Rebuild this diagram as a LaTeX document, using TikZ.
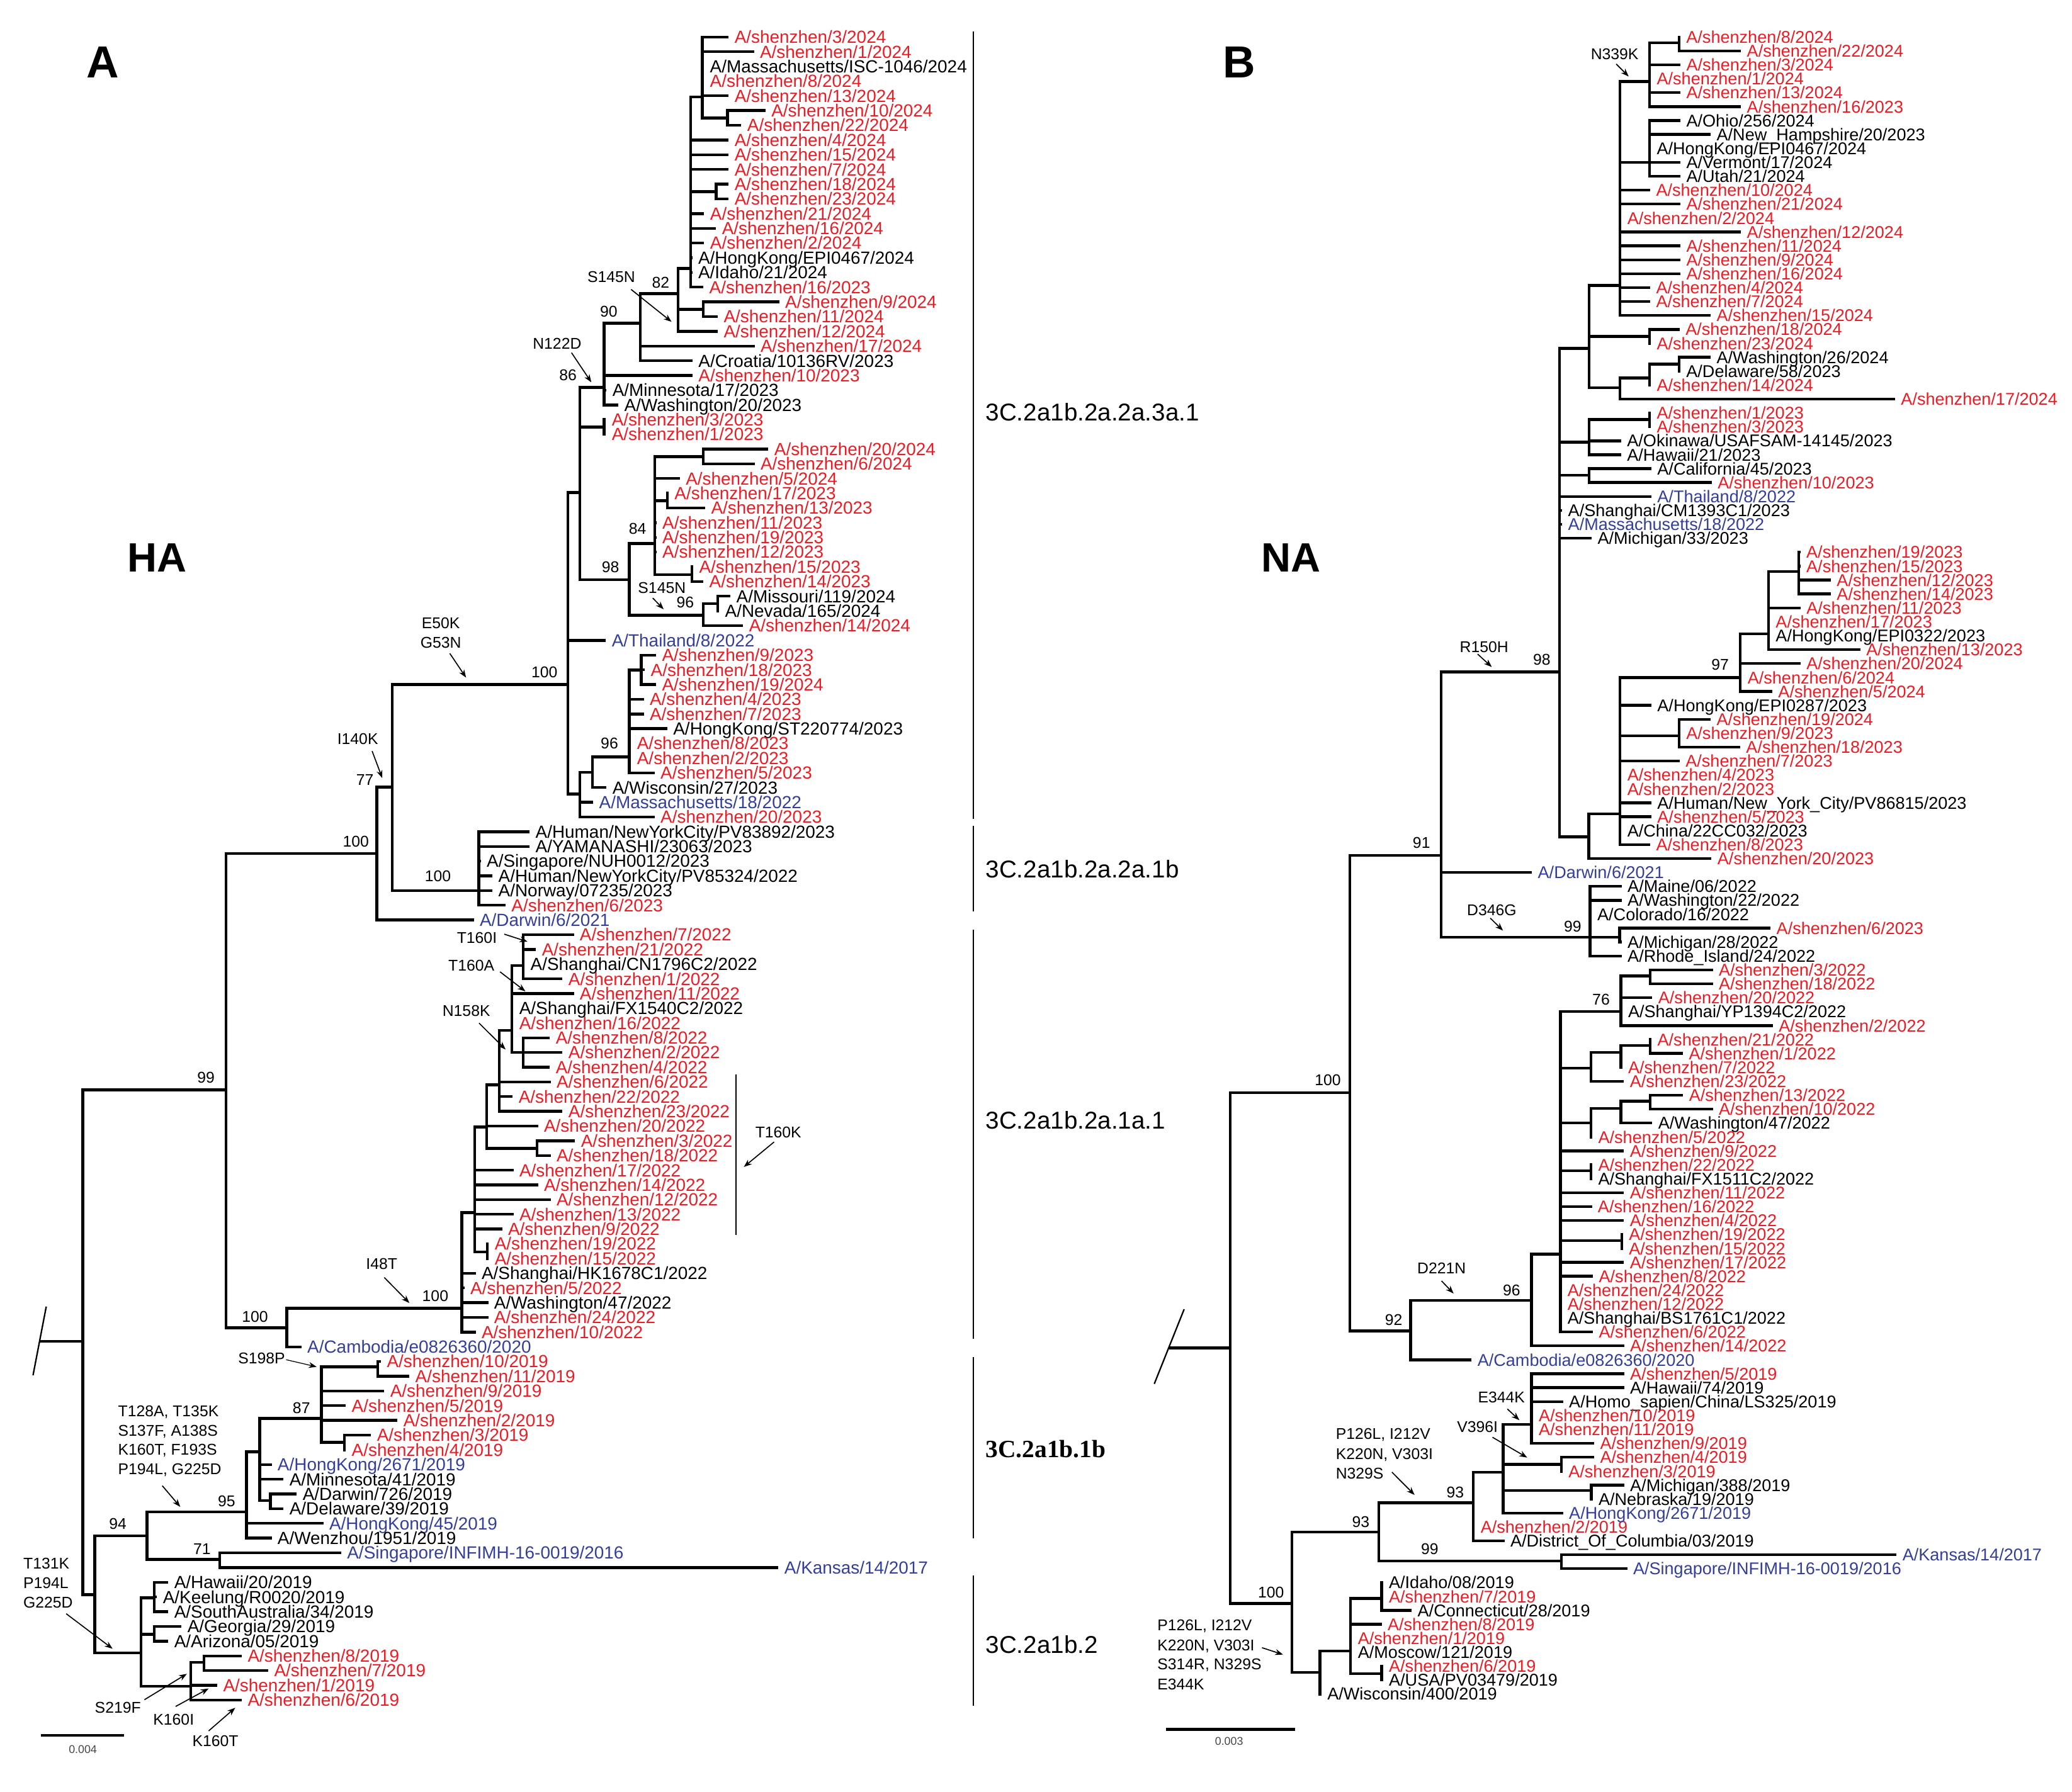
\documentclass[tikz,border=0pt]{standalone}
\usepackage{fontspec}
\setmainfont{Liberation Sans}
\newfontfamily\serifbold{Liberation Serif}
\usetikzlibrary{arrows.meta}
\definecolor{rd}{RGB}{237,28,36}
\definecolor{bl}{RGB}{52,62,155}
\definecolor{sbgray}{RGB}{70,70,70}
\newcommand\ndx[4]{\coordinate (#1) at (#3,#4); \draw[br] (#2) |- (#1);}
\newcommand\lfA[5]{\coordinate (ea#2) at (#3,{28+(#2-1)*11.14}); \draw[br] (#1) |- (ea#2); \node[lfa,text=#4] (la#2) at (ea#2) {#5};}
\newcommand\lfAr[4]{\lfA{#1}{#2}{#3}{rd}{A/shenzhen/#4}}
\newcommand\lfB[5]{\coordinate (eb#2) at (#3,{28+(#2-1)*10.54}); \draw[br] (#1) |- (eb#2); \node[lfb,text=#4] (lb#2) at (eb#2) {#5};}
\newcommand\lfBr[4]{\lfB{#1}{#2}{#3}{rd}{A/shenzhen/#4}}
\newcommand\anx[4]{\node[ann] (#1) at (#2,#3) {#4};}
\newcommand\anw[4]{\node[ann,anchor=west] (#1) at (#2,#3) {#4};}
\newcommand\arx[2]{\draw[arr] (#1) -- (#2);}
\begin{document}
\begin{tikzpicture}[x=1pt,y=-1pt,
  br/.style={line width=2.1pt,line join=miter},
  lfa/.style={anchor=base west,inner sep=0pt,xshift=4.3pt,yshift=-4.7pt,font=\fontsize{13.3}{14}\selectfont},
  lfb/.style={anchor=base west,inner sep=0pt,xshift=4.3pt,yshift=-4.6pt,font=\fontsize{12.9}{14}\selectfont},
  ann/.style={inner sep=0pt,font=\fontsize{11.8}{13}\selectfont},
  arr/.style={line width=0.8pt,-{Stealth[length=6pt,width=4.5pt]}},
  cbar/.style={line width=1.1pt},
  cl/.style={anchor=west,inner sep=0pt,font=\fontsize{18.4}{20}\selectfont},
  ttl/.style={inner sep=0pt,font=\bfseries\fontsize{34}{36}\selectfont},
  sub/.style={inner sep=0pt,font=\bfseries\fontsize{31}{33}\selectfont},
  sbl/.style={inner sep=0pt,text=sbgray,font=\fontsize{8.5}{9}\selectfont}]
\useasboundingbox (0,0) rectangle (1568,1356);
\fill[white] (0,0) rectangle (1568,1356);

% ================= PANEL A =================
\node[ttl] (tA) at (78,47) {A};
\node[sub] (tHA) at (119,422) {HA};
\coordinate (Ar) at (62.7,1015.4);
\coordinate (Ars) at (30,1015.4);
\draw[br] (Ars) -- (Ar);
\coordinate (As1) at (25,1041); \coordinate (As2) at (35,989);
\draw[line width=1.1pt] (As1) -- (As2);

\ndx{A99}{Ar}{171}{825}
\ndx{A100a}{A99}{285.2}{646}
\ndx{A77}{A100a}{296.7}{595.8}
\ndx{A100t}{A77}{429.8}{518.2}
\ndx{A100m}{A77}{362.4}{674.2}
\lfA{A100a}{61}{358.6}{bl}{A/Darwin/6/2021}
\ndx{AnB}{A100t}{438.8}{372.9}
\lfA{A100t}{42}{458.5}{bl}{A/Thailand/8/2022}
\ndx{AnC}{A100t}{438.8}{601}
\ndx{AN122}{AnB}{457.1}{293.2}
\ndx{Ap27}{AnB}{457.1}{323.2}
\lfAr{Ap27}{27}{458.5}{3/2023}
\lfAr{Ap27}{28}{458.5}{1/2023}
\ndx{A98}{AnB}{476.3}{438.9}
\ndx{A90}{AN122}{484.5}{244.7}
\lfAr{AN122}{24}{524.1}{10/2023}
\lfA{AN122}{25}{459}{black}{A/Minnesota/17/2023}
\lfA{AN122}{26}{468}{black}{A/Washington/20/2023}
\ndx{A82}{A90}{513.2}{222.3}
\lfAr{A90}{22}{571.1}{17/2024}
\lfA{A90}{23}{524.1}{black}{A/Croatia/10136RV/2023}
\ndx{Abig}{A82}{522.7}{203.2}
\ndx{Ap19}{A82}{532.3}{234.2}
\lfAr{Ap19}{19}{589.7}{9/2024}
\lfAr{Ap19}{20}{543.2}{11/2024}
\lfAr{A82}{21}{543.2}{12/2024}
\ndx{Atop}{Abig}{531.5}{73.4}
\lfAr{Abig}{8}{551.4}{4/2024}
\lfAr{Abig}{9}{551.4}{15/2024}
\lfAr{Abig}{10}{551.4}{7/2024}
\ndx{Ap11}{Abig}{541.9}{145}
\lfAr{Ap11}{11}{551.4}{18/2024}
\lfAr{Ap11}{12}{551.4}{23/2024}
\lfAr{Abig}{13}{532.9}{21/2024}
\lfAr{Abig}{14}{541.9}{16/2024}
\lfAr{Abig}{15}{532.9}{2/2024}
\lfA{Abig}{16}{523.9}{black}{A/HongKong/EPI0467/2024}
\lfA{Abig}{17}{523.9}{black}{A/Idaho/21/2024}
\lfAr{Abig}{18}{532.3}{16/2023}
\lfAr{Atop}{1}{551.4}{3/2024}
\lfAr{Atop}{2}{570.6}{1/2024}
\lfA{Atop}{3}{532.8}{black}{A/Massachusetts/ISC-1046/2024}
\lfAr{Atop}{4}{532.8}{8/2024}
\lfAr{Atop}{5}{551.4}{13/2024}
\ndx{Ap6}{Atop}{550.6}{89.3}
\lfAr{Ap6}{6}{579.3}{10/2024}
\lfAr{Ap6}{7}{561}{22/2024}
% 98 clade
\ndx{A84}{A98}{495.4}{411.4}
\ndx{A96b}{A98}{532.3}{465.7}
\ndx{Ap29}{A84}{532.3}{345.7}
\lfAr{Ap29}{29}{581.5}{20/2024}
\lfAr{Ap29}{30}{571.1}{6/2024}
\lfAr{A84}{31}{514.5}{5/2024}
\ndx{Ap32}{A84}{505}{379}
\lfAr{Ap32}{32}{506}{17/2023}
\lfAr{Ap32}{33}{533.7}{13/2023}
\lfAr{A84}{34}{496.8}{11/2023}
\lfAr{A84}{35}{496.8}{19/2023}
\lfAr{A84}{36}{496.8}{12/2023}
\ndx{Ap37}{A84}{523.6}{434.9}
\lfAr{Ap37}{37}{524.6}{15/2023}
\lfAr{Ap37}{38}{532.3}{14/2023}
\ndx{Ap39}{A96b}{543.2}{457}
\lfA{Ap39}{39}{552.8}{black}{A/Missouri/119/2024}
\lfA{Ap39}{40}{544.2}{black}{A/Nevada/165/2024}
\lfAr{A96b}{41}{562.4}{14/2024}
% lower 3a.1
\ndx{A448}{AnC}{448.4}{584.5}
\lfA{AnC}{53}{448.9}{bl}{A/Massachusetts/18/2022}
\lfAr{AnC}{54}{495.4}{20/2023}
\ndx{A96}{A448}{476.3}{573}
\lfA{A448}{52}{459}{black}{A/Wisconsin/27/2023}
\ndx{Ap43}{A96}{485.3}{507.1}
\lfAr{Ap43}{43}{496.5}{9/2023}
\lfAr{Ap43}{44}{488}{18/2023}
\lfAr{Ap43}{45}{496.5}{19/2024}
\lfAr{A96}{46}{487.2}{4/2023}
\lfAr{A96}{47}{487.2}{7/2023}
\lfA{A96}{48}{505}{black}{A/HongKong/ST220774/2023}
\lfAr{A96}{49}{477.6}{8/2023}
\lfAr{A96}{50}{477.6}{2/2023}
\lfAr{A96}{51}{495.4}{5/2023}
% 1b clade
\lfA{A100m}{55}{400.8}{black}{A/Human/NewYorkCity/PV83892/2023}
\lfA{A100m}{56}{400.8}{black}{A/YAMANASHI/23063/2023}
\lfA{A100m}{57}{363.9}{black}{A/Singapore/NUH0012/2023}
\lfA{A100m}{58}{372.7}{black}{A/Human/NewYorkCity/PV85324/2022}
\lfA{A100m}{59}{372.7}{black}{A/Norway/07235/2023}
\lfAr{A100m}{60}{382.6}{6/2023}
% 1a.1 clade
\ndx{A100b}{A99}{217.1}{1005.1}
\ndx{AI48}{A100b}{349.4}{990.2}
\lfA{A100b}{90}{228.1}{bl}{A/Cambodia/e0826360/2020}
\ndx{AX}{AI48}{359.3}{917.9}
\lfA{AI48}{85}{360}{black}{A/Shanghai/HK1678C1/2022}
\lfAr{AI48}{86}{351.5}{5/2022}
\lfA{AI48}{87}{369.5}{black}{A/Washington/47/2022}
\lfAr{AI48}{88}{369.5}{24/2022}
\lfAr{AI48}{89}{360}{10/2022}
\ndx{AY}{AX}{368.2}{853}
\lfAr{AX}{78}{388.6}{17/2022}
\lfAr{AX}{79}{407.2}{14/2022}
\lfAr{AX}{80}{416.7}{12/2022}
\lfAr{AX}{81}{388.6}{13/2022}
\lfAr{AX}{82}{380}{9/2022}
\ndx{Ap83}{AX}{368.9}{947.6}
\lfAr{Ap83}{83}{369.9}{19/2022}
\lfAr{Ap83}{84}{369.9}{15/2022}
\ndx{AN158}{AY}{377.8}{821.1}
\lfAr{AY}{75}{407.2}{20/2022}
\ndx{Ap76}{AY}{406.5}{869.3}
\lfAr{Ap76}{76}{435.2}{3/2022}
\lfAr{Ap76}{77}{416.7}{18/2022}
\ndx{AN}{AN158}{387.4}{780}
\lfAr{AN158}{72}{416.7}{6/2022}
\lfAr{AN158}{73}{388}{22/2022}
\lfAr{AN158}{74}{425.7}{23/2022}
\ndx{AT160}{AN}{396}{731}
\lfAr{AT160}{62}{434.3}{7/2022}
\lfAr{AT160}{63}{405.6}{21/2022}
\lfA{AT160}{64}{397}{black}{A/Shanghai/CN1796C2/2022}
\lfAr{AT160}{65}{425.7}{1/2022}
\lfAr{AN}{66}{434.3}{11/2022}
\lfA{AN}{67}{388.5}{black}{A/Shanghai/FX1540C2/2022}
\lfAr{AN}{68}{388.5}{16/2022}
\ndx{Ap69}{AN}{396}{796.5}
\lfAr{Ap69}{69}{416.1}{8/2022}
\lfAr{Ap69}{70}{425.7}{2/2022}
\lfAr{Ap69}{71}{416.1}{4/2022}
% lower part
\ndx{AR2}{Ar}{71.7}{1207}
\ndx{A94}{AR2}{111.3}{1162.4}
\ndx{AT131}{AR2}{106.8}{1251.1}
\ndx{A95}{A94}{186.5}{1144.4}
\ndx{A71}{A94}{166.4}{1180.4}
\lfA{A71}{104}{258.2}{bl}{A/Singapore/INFIMH-16-0019/2016}
\lfA{A71}{105}{589.1}{bl}{A/Kansas/14/2017}
\ndx{A196}{A95}{196.5}{1098.9}
\lfA{A95}{102}{244.7}{bl}{A/HongKong/45/2019}
\lfA{A95}{103}{205.6}{black}{A/Wenzhou/1951/2019}
\ndx{A87}{A196}{243.2}{1073.7}
\lfA{A196}{98}{205.6}{bl}{A/HongKong/2671/2019}
\lfA{A196}{99}{214.6}{black}{A/Minnesota/41/2019}
\ndx{Ap100}{A196}{204.6}{1135.9}
\lfA{Ap100}{100}{224.6}{black}{A/Darwin/726/2019}
\lfA{Ap100}{101}{214.6}{black}{A/Delaware/39/2019}
\ndx{Ap91}{A87}{285.8}{1034.6}
\lfAr{Ap91}{91}{288.3}{10/2019}
\lfAr{Ap91}{92}{309.8}{11/2019}
\lfAr{A87}{93}{290.8}{9/2019}
\lfAr{A87}{94}{261.7}{5/2019}
\lfAr{A87}{95}{300.8}{2/2019}
\ndx{Ap96}{A87}{260.7}{1091.7}
\lfAr{Ap96}{96}{280.8}{3/2019}
\lfAr{Ap96}{97}{261.7}{4/2019}
\ndx{AH}{AT131}{116.8}{1209.5}
\lfA{AH}{106}{127.4}{black}{A/Hawaii/20/2019}
\lfA{AH}{107}{118.8}{black}{A/Keelung/R0020/2019}
\lfA{AH}{108}{127.4}{black}{A/SouthAustralia/34/2019}
\ndx{AG}{AT131}{116.8}{1237}
\lfA{AG}{109}{137.4}{black}{A/Georgia/29/2019}
\lfA{AG}{110}{127.4}{black}{A/Arizona/05/2019}
\ndx{AS219}{AT131}{144.4}{1276.3}
\ndx{Ap111}{AS219}{154.4}{1258.3}
\lfAr{Ap111}{111}{183}{8/2019}
\lfAr{Ap111}{112}{203}{7/2019}
\lfAr{AS219}{113}{164.4}{1/2019}
\lfAr{AS219}{114}{183}{6/2019}

% annotations A
\anx{aS145a}{462.6}{209.6}{S145N}
\arx{477.6,219.1}{508.2,243.6}
\anx{a82}{500}{213.8}{82}
\anx{a90}{460.7}{236}{90}
\anx{aN122}{421.6}{260}{N122D}
\arx{432.5,267}{447.5,289.4}
\anx{a86}{429.8}{284}{86}
\anx{a84}{482.5}{400.1}{84}
\anx{a98}{462}{429.3}{98}
\anx{aS145b}{500.9}{444.8}{S145N}
\arx{494,452.7}{502.2,461.2}
\anx{a96b}{518.6}{456.1}{96}
\anx{a100t}{412}{508.6}{100}
\anx{a96}{461.2}{562.5}{96}
\anx{aE50}{333.6}{471.9}{E50K}
\anx{aG53}{333.6}{486.4}{G53N}
\arx{340.4,494.6}{352.7,512.9}
\anx{aI140}{270.7}{559.4}{I140K}
\arx{281.6,568.5}{289.3,589}
\anx{a77}{276.2}{590.4}{77}
\anx{a100a}{269.3}{636.9}{100}
\anx{a100m}{331.4}{663.3}{100}
\anx{a99}{155.9}{815.9}{99}
\anx{aT160I}{360.9}{710.1}{T160I}
\arx{381.6,707.1}{399.2,712.8}
\anx{aT160A}{356.7}{731}{T160A}
\arx{378.4,735.6}{397.6,750.4}
\anx{aN158}{352.9}{765.3}{N158K}
\arx{362.5,774.4}{382.6,794.4}
\anx{aI48}{288.8}{956.8}{I48T}
\arx{290.8,967}{309.8,986.3}
\anx{a100i}{329.4}{981.2}{100}
\anx{a100b}{193}{996.6}{100}
\anx{aS198}{198}{1028.2}{S198P}
\draw[line width=0.6pt,-{Stealth[length=6pt,width=4.5pt]}] (216.5,1029.2) -- (239.6,1034.6);
\anx{a87}{228.1}{1066}{87}
\anw{aT128a}{89.2}{1069}{T128A, T135K}
\anw{aT128b}{89.2}{1083.5}{S137F, A138S}
\anw{aT128c}{89.2}{1098.1}{K160T, F193S}
\anw{aT128d}{89.2}{1112.8}{P194L, G225D}
\arx{122.8,1124.6}{136.4,1140.6}
\anx{a95}{171.5}{1136.2}{95}
\anx{a94}{89.2}{1153.4}{94}
\anx{a71}{152.9}{1172.7}{71}
\anw{aT131a}{17.5}{1183.5}{T131K}
\anw{aT131b}{17.5}{1198.4}{P194L}
\anw{aT131c}{17.5}{1213.1}{G225D}
\arx{50.1,1221.5}{85.2,1248}
\anx{aS219}{89.2}{1292.7}{S219F}
\arx{109.3,1286.6}{141.4,1267}
\anx{aK160I}{131.4}{1301.7}{K160I}
\arx{132.9,1291.7}{157.9,1278.1}
\anx{aK160T}{163}{1318}{K160T}
\arx{157.9,1310.2}{178,1292.7}
% T160K bar
\coordinate (TKa) at (557.1,813.3); \coordinate (TKb) at (557.1,935);
\draw[cbar] (TKa) -- (TKb);
\anx{aT160K}{589}{857.1}{T160K}
\arx{585.8,864.4}{562.9,883.3}
% scale bar A
\coordinate (sbA1) at (31.1,1313.6); \coordinate (sbA2) at (93.8,1313.6);
\draw[line width=2.2pt] (sbA1) -- (sbA2);
\node[sbl] (sbAl) at (62.7,1324.4) {0.004};
% clade bars
\draw[cbar] (736.5,24) -- (736.5,620);
\draw[cbar] (736.5,625) -- (736.5,690);
\draw[cbar] (736.5,703.7) -- (736.5,1013.3);
\draw[cbar] (736.5,1027.4) -- (736.5,1164.2);
\draw[cbar] (736.5,1192.5) -- (736.5,1291);
\node[cl] (c1) at (745.7,312) {3C.2a1b.2a.2a.3a.1};
\node[cl] (c2) at (745.7,658) {3C.2a1b.2a.2a.1b};
\node[cl] (c3) at (745.7,848) {3C.2a1b.2a.1a.1};
\node[cl,font=\serifbold\bfseries\fontsize{18.8}{20}\selectfont] (c4) at (745.7,1097) {3C.2a1b.1b};
\node[cl] (c5) at (745.7,1245) {3C.2a1b.2};

% ================= PANEL B =================
\node[ttl] (tB) at (938,47) {B};
\node[sub] (tNA) at (977,422) {NA};
\coordinate (Br) at (931,1020.3);
\coordinate (Brs) at (884.8,1020.3);
\draw[br] (Brs) -- (Br);
\coordinate (Bs1) at (873.5,1047.5); \coordinate (Bs2) at (896.1,991);
\draw[line width=1.1pt] (Bs1) -- (Bs2);

\ndx{B100}{Br}{1021.4}{827}
\ndx{B100low}{Br}{977.7}{1213.8}
\ndx{B91}{B100}{1090.6}{647.4}
\ndx{B92}{B100}{1067.4}{1007.4}
\ndx{B98}{B91}{1180.2}{508.7}
\lfB{B91}{61}{1159.3}{bl}{A/Darwin/6/2021}
\ndx{B99D}{B91}{1203.3}{709.4}
\ndx{BTop}{B98}{1202.5}{263.8}
\ndx{Bp28}{B98}{1202.5}{334.8}
\ndx{Bp32}{B98}{1202.5}{359.7}
\lfB{Bp32}{32}{1249.7}{black}{A/California/45/2023}
\lfBr{Bp32}{33}{1295.4}{10/2023}
\lfB{B98}{34}{1249.7}{bl}{A/Thailand/8/2022}
\lfB{B98}{35}{1182.2}{black}{A/Shanghai/CM1393C1/2023}
\lfB{B98}{36}{1182.2}{bl}{A/Massachusetts/18/2022}
\lfB{B98}{37}{1204.5}{black}{A/Michigan/33/2023}
\ndx{BBot}{B98}{1202.4}{633.5}
\ndx{Bpp28}{Bp28}{1248.3}{317.5}
\lfBr{Bpp28}{28}{1249.3}{1/2023}
\lfBr{Bpp28}{29}{1249.3}{3/2023}
\lfB{Bp28}{30}{1226.8}{black}{A/Okinawa/USAFSAM-14145/2023}
\lfB{Bp28}{31}{1226.8}{black}{A/Hawaii/21/2023}
\ndx{BN339}{BTop}{1226}{216}
\ndx{Bp22}{BTop}{1248.3}{254.6}
\lfBr{Bp22}{22}{1271.1}{18/2024}
\lfBr{Bp22}{23}{1249.3}{23/2024}
\ndx{Bq}{BTop}{1226}{293.6}
\ndx{Bq2}{Bq}{1248.3}{286.2}
\lfBr{Bq}{27}{1434.1}{17/2024}
\ndx{Bq3}{Bq2}{1270.6}{275.6}
\lfB{Bq3}{24}{1294.6}{black}{A/Washington/26/2024}
\lfB{Bq3}{25}{1271.6}{black}{A/Delaware/58/2023}
\lfBr{Bq2}{26}{1249.3}{14/2024}
\ndx{Bn1}{BN339}{1248.3}{61.7}
\ndx{Bp1}{Bn1}{1270.6}{32.3}
\lfBr{Bp1}{1}{1271.6}{8/2024}
\lfBr{Bp1}{2}{1317.5}{22/2024}
\lfBr{Bn1}{3}{1271.7}{3/2024}
\lfBr{Bn1}{4}{1249.3}{1/2024}
\lfBr{Bn1}{5}{1271.7}{13/2024}
\lfBr{Bn1}{6}{1317.5}{16/2023}
\ndx{Bn2}{BN339}{1248.3}{123}
\lfB{Bn2}{7}{1271.7}{black}{A/Ohio/256/2024}
\lfB{Bn2}{8}{1294.6}{black}{A/New\_Hampshire/20/2023}
\lfB{Bn2}{9}{1249.3}{black}{A/HongKong/EPI0467/2024}
\lfB{Bn2}{10}{1271.7}{black}{A/Vermont/17/2024}
\lfB{Bn2}{11}{1271.7}{black}{A/Utah/21/2024}
\lfBr{BN339}{12}{1248.8}{10/2024}
\lfBr{BN339}{13}{1271.7}{21/2024}
\lfBr{BN339}{14}{1227}{2/2024}
\lfBr{BN339}{15}{1317.5}{12/2024}
\lfBr{BN339}{16}{1271.7}{11/2024}
\lfBr{BN339}{17}{1271.7}{9/2024}
\lfBr{BN339}{18}{1271.7}{16/2024}
\lfBr{BN339}{19}{1248.8}{4/2024}
\lfBr{BN339}{20}{1248.8}{7/2024}
\lfBr{BN339}{21}{1294.6}{15/2024}
\ndx{BQ}{BBot}{1226}{616.1}
\lfBr{BBot}{60}{1295.2}{20/2023}
\ndx{B97}{BQ}{1316.9}{512.9}
\lfB{BQ}{49}{1249.7}{black}{A/HongKong/EPI0287/2023}
\ndx{Bp50}{BQ}{1270.6}{556.9}
\lfBr{Bp50}{50}{1294.6}{19/2024}
\lfBr{Bp50}{51}{1271.6}{9/2023}
\lfBr{Bp50}{52}{1316.9}{18/2023}
\lfBr{BQ}{53}{1271.1}{7/2023}
\lfBr{BQ}{54}{1227}{4/2023}
\lfBr{BQ}{55}{1227}{2/2023}
\lfB{BQ}{56}{1249.7}{black}{A/Human/New\_York\_City/PV86815/2023}
\lfBr{BQ}{57}{1249.7}{5/2023}
\lfB{BQ}{58}{1227}{black}{A/China/22CC032/2023}
\lfBr{BQ}{59}{1248.8}{8/2023}
\ndx{Bm}{B97}{1338.3}{479.9}
\lfBr{B97}{46}{1362.6}{20/2024}
\lfBr{B97}{47}{1318}{6/2024}
\lfBr{B97}{48}{1341.2}{5/2024}
\ndx{Bm2}{Bm}{1361.2}{432.7}
\lfBr{Bm2}{38}{1362.5}{19/2023}
\lfBr{Bm2}{39}{1362.5}{15/2023}
\lfBr{Bm2}{40}{1385.5}{12/2023}
\lfBr{Bm2}{41}{1385.5}{14/2023}
\lfBr{Bm}{42}{1362.6}{11/2023}
\lfBr{Bm}{43}{1339.3}{17/2023}
\lfB{Bm}{44}{1339.3}{black}{A/HongKong/EPI0322/2023}
\lfBr{Bm}{45}{1407.8}{13/2023}
\lfB{B99D}{62}{1227.2}{black}{A/Maine/06/2022}
\lfB{B99D}{63}{1227.2}{black}{A/Washington/22/2022}
\lfB{B99D}{64}{1204.3}{black}{A/Colorado/16/2022}
\ndx{Bp65}{B99D}{1225.6}{709.4}
\lfBr{Bp65}{65}{1339.9}{6/2023}
\lfB{Bp65}{66}{1227.2}{black}{A/Michigan/28/2022}
\lfB{B99D}{67}{1227.2}{black}{A/Rhode\_Island/24/2022}
\ndx{B96D}{B92}{1158.9}{984.3}
\lfB{B92}{96}{1113.6}{bl}{A/Cambodia/e0826360/2020}
\ndx{BBig}{B96D}{1180.8}{949.4}
\lfBr{B96D}{95}{1229.1}{14/2022}
\ndx{B76}{BBig}{1226.6}{765.7}
\ndx{Bp68}{B76}{1248.8}{738.7}
\lfBr{Bp68}{68}{1296.2}{3/2022}
\lfBr{Bp68}{69}{1296.2}{18/2022}
\lfBr{B76}{70}{1250.4}{20/2022}
\lfB{B76}{71}{1227.6}{black}{A/Shanghai/YP1394C2/2022}
\lfBr{B76}{72}{1341.6}{2/2022}
\ndx{B470a}{BBig}{1204}{808.5}
\ndx{B538c}{B470a}{1226.6}{796.5}
\ndx{Bp73}{B538c}{1248.8}{791.5}
\lfBr{Bp73}{73}{1249.8}{21/2022}
\lfBr{Bp73}{74}{1273.6}{1/2022}
\lfBr{B538c}{75}{1227.6}{7/2022}
\lfBr{B470a}{76}{1228.9}{23/2022}
\ndx{B470b}{BBig}{1204}{850}
\ndx{B538d}{B470b}{1226.6}{839}
\ndx{Bp77}{B538d}{1248.8}{833.5}
\lfBr{Bp77}{77}{1273.7}{13/2022}
\lfBr{Bp77}{78}{1296.2}{10/2022}
\lfB{B538d}{79}{1250.4}{black}{A/Washington/47/2022}
\lfBr{B470b}{80}{1205}{5/2022}
\lfBr{BBig}{81}{1228.9}{9/2022}
\ndx{Bp82}{BBig}{1204}{886.3}
\lfBr{Bp82}{82}{1205}{22/2022}
\lfB{Bp82}{83}{1205}{black}{A/Shanghai/FX1511C2/2022}
\lfBr{BBig}{84}{1228.9}{11/2022}
\lfBr{BBig}{85}{1204.7}{16/2022}
\lfBr{BBig}{86}{1228.9}{4/2022}
\ndx{Bp87}{BBig}{1227.2}{939}
\lfBr{Bp87}{87}{1228.2}{19/2022}
\lfBr{Bp87}{88}{1228.2}{15/2022}
\lfBr{BBig}{89}{1228.9}{17/2022}
\lfBr{BBig}{90}{1205.5}{8/2022}
\lfBr{BBig}{91}{1181.8}{24/2022}
\lfBr{BBig}{92}{1181.8}{12/2022}
\lfB{BBig}{93}{1181.8}{black}{A/Shanghai/BS1761C1/2022}
\lfBr{BBig}{94}{1205.5}{6/2022}
\ndx{B93a}{B100low}{1043.3}{1159.8}
\ndx{Blow}{B100low}{998.9}{1266}
\ndx{B93b}{B93a}{1114.9}{1137.5}
\ndx{B99low}{B93a}{1181.5}{1181.7}
\lfB{B99low}{110}{1435.2}{bl}{A/Kansas/14/2017}
\lfB{B99low}{111}{1231.4}{bl}{A/Singapore/INFIMH-16-0019/2016}
\ndx{BV396}{B93b}{1137.6}{1114.3}
\lfBr{B93b}{108}{1116}{2/2019}
\lfB{B93b}{109}{1138.5}{black}{A/District\_Of\_Columbia/03/2019}
\ndx{BE344}{BV396}{1158.9}{1078.3}
\lfBr{BE344}{97}{1229.1}{5/2019}
\lfB{BE344}{98}{1229.1}{black}{A/Hawaii/74/2019}
\lfB{BE344}{99}{1182.9}{black}{A/Homo\_sapien/China/LS325/2019}
\lfBr{BE344}{100}{1160}{10/2019}
\lfBr{BE344}{101}{1160}{11/2019}
\lfBr{BE344}{102}{1206.4}{9/2019}
\ndx{Bp103}{BV396}{1181.5}{1108.4}
\lfBr{Bp103}{103}{1206.4}{4/2019}
\lfBr{Bp103}{104}{1182.5}{3/2019}
\ndx{Bp105}{BV396}{1204.2}{1128.2}
\lfB{Bp105}{105}{1229.1}{black}{A/Michigan/388/2019}
\lfB{Bp105}{106}{1205.2}{black}{A/Nebraska/19/2019}
\lfB{BV396}{107}{1182.9}{bl}{A/HongKong/2671/2019}
\ndx{B363}{Blow}{1022.1}{1249.8}
\lfB{Blow}{120}{1000}{black}{A/Wisconsin/400/2019}
\ndx{B415}{B363}{1045.6}{1210}
\lfB{B415}{112}{1046.6}{black}{A/Idaho/08/2019}
\lfBr{B415}{113}{1046.6}{7/2019}
\lfB{B415}{114}{1068.3}{black}{A/Connecticut/28/2019}
\lfBr{B363}{115}{1045.6}{8/2019}
\lfBr{B363}{116}{1023.1}{1/2019}
\lfB{B363}{117}{1023.1}{black}{A/Moscow/121/2019}
\ndx{Bp118}{B363}{1045.6}{1267}
\lfBr{Bp118}{118}{1046.6}{6/2019}
\lfB{Bp118}{119}{1046.6}{black}{A/USA/PV03479/2019}

% annotations B
\anx{bN339}{1221.9}{40.9}{N339K}
\arx{1223.1,48.5}{1232.5,57.9}
\anx{bR150}{1123.1}{490}{R150H}
\arx{1118.2,495.1}{1128.9,504.9}
\anx{b98}{1166.8}{499.1}{98}
\anx{b97}{1301.7}{503.3}{97}
\anx{b91}{1075.7}{638.1}{91}
\anx{bD346}{1128.9}{688.7}{D346G}
\arx{1127.8,695}{1137.4,704.4}
\anx{b99}{1190.1}{701.4}{99}
\anx{b76}{1211.6}{756.8}{76}
\anx{b100}{1004.8}{817.6}{100}
\anx{bD221}{1090.9}{960.1}{D221N}
\arx{1090.9,969.6}{1100,979.1}
\anx{b96}{1143.9}{976.5}{96}
\anx{b92}{1054.7}{999.2}{92}
\anx{bE344}{1136.2}{1057.8}{E344K}
\arx{1140.7,1066.5}{1149.8,1075}
\anx{bV396}{1118.1}{1080.1}{V396I}
\arx{1129.4,1087.9}{1155.7,1103.3}
\anw{bP1a}{1010.7}{1086}{P126L, I212V}
\anw{bP1b}{1010.7}{1101.5}{K220N, V303I}
\anw{bP1c}{1010.7}{1115.4}{N329S}
\arx{1053.3,1114.3}{1070.5,1131.6}
\anx{b93b}{1101.3}{1129.8}{93}
\anx{b93a}{1029.8}{1152.1}{93}
\anx{b99low}{1081.9}{1172.7}{99}
\anx{b100low}{961.8}{1205.3}{100}
\anw{bP2a}{875.7}{1231}{P126L, I212V}
\anw{bP2b}{875.7}{1246}{K220N, V303I}
\anw{bP2c}{875.7}{1260.4}{S314R, N329S}
\anw{bP2d}{875.7}{1274.8}{E344K}
\arx{955,1247.2}{970.9,1252.4}
% scale bar B
\coordinate (sbB1) at (882.5,1308.9); \coordinate (sbB2) at (979.9,1308.9);
\draw[line width=2.2pt] (sbB1) -- (sbB2);
\node[sbl] (sbBl) at (930.1,1318) {0.003};
\end{tikzpicture}
\end{document}
